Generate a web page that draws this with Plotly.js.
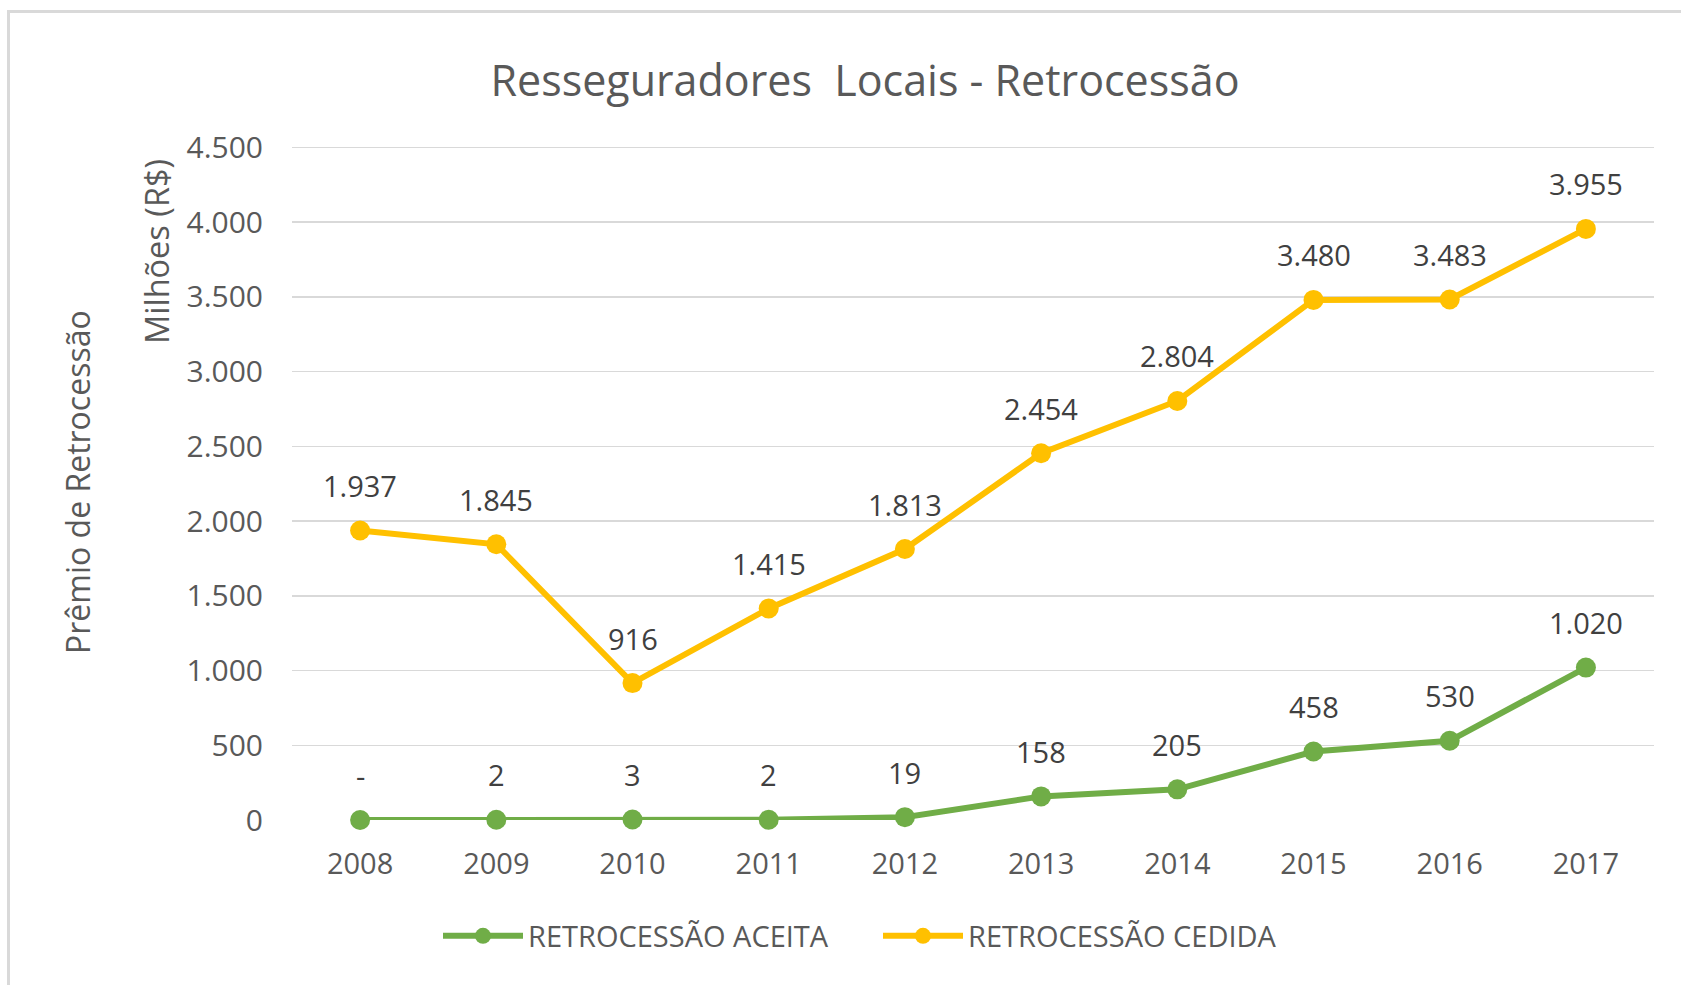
<!DOCTYPE html>
<html>
<head>
<meta charset="utf-8">
<script src="https://cdn.plot.ly/plotly-3.0.1.min.js"></script>
<style>
  html, body { margin: 0; padding: 0; background: #ffffff; }
  #chart { width: 1681px; height: 985px; }
</style>
</head>
<body>
<div id="chart"></div>
<script>
// ---- Data ----
const years = ['2008', '2009', '2010', '2011', '2012', '2013', '2014', '2015', '2016', '2017'];
const aceita = [0, 2, 3, 2, 19, 158, 205, 458, 530, 1020];
const cedida = [1937, 1845, 916, 1415, 1813, 2454, 2804, 3480, 3483, 3955];
const seriesNames = ['RETROCESSÃO ACEITA', 'RETROCESSÃO CEDIDA'];
const yTicks = [0, 500, 1000, 1500, 2000, 2500, 3000, 3500, 4000, 4500];

// ---- Layout constants (pixels) ----
const W = 1681, H = 985;
const yMax = 4530;                       // small headroom so the 4.500 gridline is drawn
const plotL = 292, plotR = 1654, plotB = 820;
const ph = Math.round(673 * yMax / 4500); // 4.500 sits at y=147
const plotT = plotB - ph;
const pw = plotR - plotL;
const px2x = p => (p - plotL) / pw;
const px2y = p => (plotB - p) / ph;

const FONT = '"Open Sans", "Noto Sans", sans-serif';
const GREEN = '#70AD47', GOLD = '#FFC000';

function fmt(v) {
  if (v === 0) return '-';
  return String(v).replace(/\B(?=(\d{3})+(?!\d))/g, '.');
}

const traces = [
  {
    x: years, y: aceita, name: seriesNames[0], type: 'scatter', mode: 'lines+markers',
    line: { color: GREEN, width: 6 }, marker: { color: GREEN, size: 20 }, cliponaxis: false
  },
  {
    x: years, y: cedida, name: seriesNames[1], type: 'scatter', mode: 'lines+markers',
    line: { color: GOLD, width: 6 }, marker: { color: GOLD, size: 20 }, cliponaxis: false
  }
];

const annotations = [];
[aceita, cedida].forEach(series => {
  series.forEach((v, i) => {
    // category axis: position by category index
    annotations.push({
      x: i, y: v, xref: 'x', yref: 'y', text: fmt(v), showarrow: false,
      yshift: 45, font: { family: FONT, size: 29, color: '#404040' }
    });
  });
});

annotations.push({
  xref: 'paper', yref: 'paper', x: px2x(156), y: px2y(252), text: 'Milhões (R$)',
  showarrow: false, textangle: -90, xanchor: 'center', yanchor: 'middle',
  font: { family: FONT, size: 32.5, color: '#595959' }
});
annotations.push({
  xref: 'paper', yref: 'paper', x: px2x(78), y: px2y(482), text: 'Prêmio de Retrocessão',
  showarrow: false, textangle: -90, xanchor: 'center', yanchor: 'middle',
  font: { family: FONT, size: 32, color: '#595959' }
});

const layout = {
  width: W, height: H,
  margin: { l: plotL, r: W - plotR, t: plotT, b: H - plotB, pad: 0 },
  paper_bgcolor: '#ffffff', plot_bgcolor: '#ffffff',
  separators: ',.',
  font: { family: FONT, color: '#595959' },
  title: {
    text: 'Resseguradores&nbsp; Locais - Retrocessão',
    xref: 'container', yref: 'container', x: 865 / W, y: 1 - 81 / H,
    xanchor: 'center', yanchor: 'middle',
    font: { family: FONT, size: 43, color: '#595959' }
  },
  xaxis: {
    type: 'category', range: [-0.5, 9.5], showgrid: false, zeroline: false,
    showline: false, ticks: '', tickfont: { family: FONT, size: 29, color: '#595959' },
    ticklabelstandoff: 24, fixedrange: true
  },
  yaxis: {
    range: [0, yMax], tickvals: yTicks, tickformat: ',d', showgrid: true,
    gridcolor: '#D9D9D9', gridwidth: 1.5, zeroline: false, showline: false, ticks: '',
    tickfont: { family: FONT, size: 30, color: '#595959' }, ticklabelstandoff: 28,
    fixedrange: true
  },
  showlegend: true,
  legend: {
    orientation: 'h', x: px2x(438), y: px2y(936), xanchor: 'left', yanchor: 'middle',
    font: { family: FONT, size: 29, color: '#595959' }, entrywidth: 345, entrywidthmode: 'pixels',
    itemwidth: 80, bgcolor: 'rgba(0,0,0,0)'
  },
  annotations: annotations,
  shapes: [{
    type: 'rect', xref: 'paper', yref: 'paper', layer: 'below',
    x0: px2x(8.5), x1: px2x(1720), y0: px2y(11.5), y1: px2y(1020),
    line: { color: '#D9D9D9', width: 3 }, fillcolor: 'rgba(0,0,0,0)'
  }]
};

Plotly.newPlot('chart', traces, layout, { displayModeBar: false, staticPlot: true });
</script>
</body>
</html>
